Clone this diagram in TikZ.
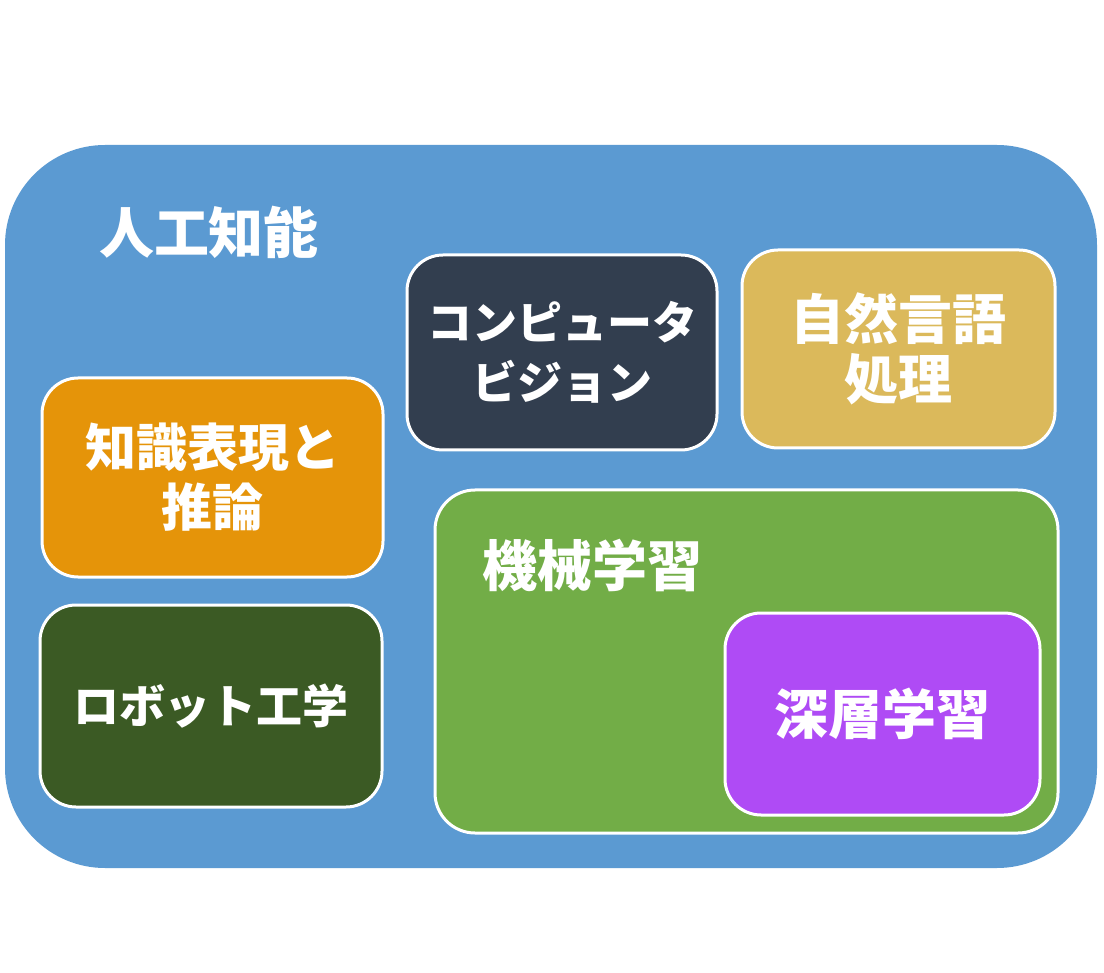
\documentclass[tikz,border=0pt]{standalone}
\usepackage{fontspec}
\setmainfont{Noto Sans CJK JP}
\usepackage{tikz}
\usetikzlibrary{positioning}
\definecolor{aiblue}{HTML}{5B9AD2}
\definecolor{cvnavy}{HTML}{323E4F}
\definecolor{nlpgold}{HTML}{DBB95B}
\definecolor{kror}{HTML}{E59409}
\definecolor{robogreen}{HTML}{3B5A24}
\definecolor{mlgreen}{HTML}{72AD47}
\definecolor{dlpurple}{HTML}{AF4BF5}
\tikzset{
	field/.style={draw=white, line width=3pt, rounded corners=36pt, align=center, text=white, inner sep=0pt},
	fieldname/.style={text=white, inner sep=0pt, font=\bfseries\fontsize{55}{60}\selectfont}
}

\begin{document}
\begin{tikzpicture}[x=1pt,y=-1pt]
			\fill[white] (0,0) rectangle (1104,973);
			\useasboundingbox (0,0) rectangle (1104,973);
			\node[fill=aiblue, rounded corners=100pt, minimum width=1092pt, minimum height=723pt] (ai) at (551,506.5) {};
			\node[fieldname] (ainame) at (209,232) {人工知能};
			\node[field, fill=cvnavy, minimum width=310pt, minimum height=195pt, font=\bfseries\fontsize{45}{60}\selectfont] (cv) at (562,352.5) {コンピュータ\\ビジョン};
			\node[field, fill=nlpgold, minimum width=313pt, minimum height=198pt, font=\bfseries\fontsize{54}{60}\selectfont] (nlp) at (898.5,349) {自然言語\\処理};
			\node[field, fill=kror, minimum width=341pt, minimum height=199pt, font=\bfseries\fontsize{51}{60}\selectfont] (kr) at (212.5,477.5) {知識表現と\\推論};
			\node[field, fill=robogreen, minimum width=342pt, minimum height=202pt, font=\bfseries\fontsize{46}{60}\selectfont] (robo) at (211,706) {ロボット工学};
			\node[field, fill=mlgreen, rounded corners=40pt, minimum width=623pt, minimum height=343pt] (ml) at (746.5,661.5) {};
			\node[fieldname] (mlname) at (592,565) {機械学習};
			\node[field, fill=dlpurple, minimum width=315pt, minimum height=202pt, font=\bfseries\fontsize{54}{60}\selectfont] (dl) at (882.5,714) {深層学習};
		\end{tikzpicture}
\end{document}
